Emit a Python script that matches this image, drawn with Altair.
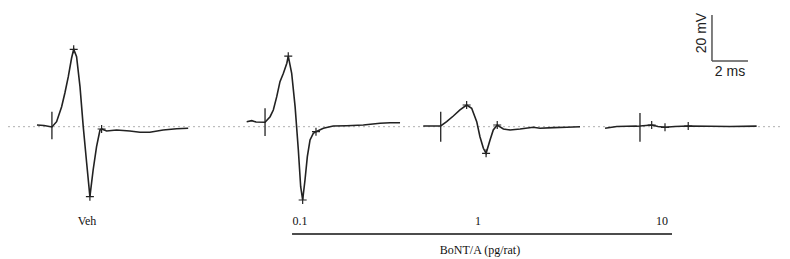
import altair as alt
import pandas as pd

# ---- data (time in ms relative to stimulus, voltage in mV relative to baseline) ----
trace_names = ["Veh", "0.1", "1", "10"]

veh_t = [-0.83, -0.44, 0.0, 0.26, 0.54, 0.72, 0.91, 1.09, 1.21, 1.37, 1.56, 1.74, 1.93, 2.11, 2.29, 2.48, 2.67, 2.76, 3.04, 3.59, 4.33, 4.89, 5.44, 6.18, 6.93, 7.57]
veh_v = [0.74, 0.52, -0.13, 2.17, 8.70, 14.65, 21.74, 29.74, 33.65, 30.43, 17.39, 0.0, -15.78, -30.43, -18.83, -8.70, -1.43, -1.0, -1.87, -1.43, -1.87, -2.43, -2.43, -1.43, -0.87, -0.70]

b01_t = [-1.02, -0.74, -0.5, 0.0, 0.28, 0.46, 0.65, 0.83, 1.02, 1.21, 1.29, 1.48, 1.67, 1.85, 1.98, 2.09, 2.22, 2.35, 2.5, 2.68, 2.83, 3.24, 3.79, 4.54, 5.46, 6.39, 6.94, 7.5]
b01_v = [2.17, 2.61, 2.04, 1.91, 4.35, 7.26, 13.04, 19.57, 23.22, 27.57, 30.65, 23.22, 8.70, -10.13, -26.09, -31.87, -23.17, -13.04, -5.78, -2.87, -2.17, -0.70, 0.30, 0.43, 0.74, 1.48, 1.74, 1.74]

b1_t = [-0.97, 0.0, 0.33, 0.7, 1.07, 1.44, 1.72, 2.0, 2.18, 2.37, 2.52, 2.74, 2.92, 3.14, 3.48, 3.85, 4.41, 5.14, 5.52, 6.26, 7.0, 7.74]
b1_v = [0.30, 0.30, 2.17, 4.65, 7.26, 9.43, 8.0, 2.17, -4.35, -9.39, -11.57, -5.78, -1.43, 0.74, -1.0, -1.43, -1.0, -0.26, -0.70, -0.43, -0.26, 0.0]

b10_t = [-1.94, -1.29, -0.74, -0.18, 0.0, 0.65, 1.0, 1.39, 1.94, 2.68, 3.89, 5.0, 6.48]
b10_v = [-0.70, 0.09, 0.17, 0.22, 0.30, 0.74, 0.09, -0.26, 0.09, 0.30, 0.17, 0.09, 0.22]

# marker crosses (peak, trough, end) per trace
mark_t = [[1.21, 2.11, 2.76], [1.29, 2.09, 2.83], [1.44, 2.52, 3.14], [0.65, 1.39, 2.68]]
mark_v = [[33.65, -30.43, -1.0], [30.65, -31.87, -2.17], [9.43, -11.57, 0.74], [0.74, -0.26, 0.30]]

# stimulus tick extents (mV)
stim_top = [6.5, 8.0, 6.5, 6.0]
stim_bot = [-5.5, -4.0, -6.5, -6.5]

group_label = "BoNT/A (pg/rat)"
scale_mv = 20
scale_ms = 2

# ---- layout (canvas placement in ms / mV) ----
stim_at = [2.44, 14.28, 24.04, 35.11]
label_x = [4.39, 16.22, 26.11, 36.33]
label_y = -41.0

x_scale = alt.Scale(domain=[0, 43], nice=False, zero=False)
y_scale = alt.Scale(domain=[-57.53, 51.6], nice=False, zero=False)

rows = []
for name, off, ts, vs in zip(trace_names, stim_at, [veh_t, b01_t, b1_t, b10_t], [veh_v, b01_v, b1_v, b10_v]):
    for i, (t, v) in enumerate(zip(ts, vs)):
        rows.append({"trace": name, "i": i, "t": off + t, "v": v})
traces = pd.DataFrame(rows)

mrows = []
for name, off, ts, vs in zip(trace_names, stim_at, mark_t, mark_v):
    for t, v in zip(ts, vs):
        mrows.append({"trace": name, "t": off + t, "v": v})
marks = pd.DataFrame(mrows)

stims = pd.DataFrame({"trace": trace_names, "t": stim_at, "top": stim_top, "bot": stim_bot})
labels = pd.DataFrame({"label": trace_names, "t": label_x, "v": [label_y] * 4})

X = lambda f: alt.X(f, type="quantitative", scale=x_scale, axis=None)
Y = lambda f: alt.Y(f, type="quantitative", scale=y_scale, axis=None)

ink = "#222222"

baseline = alt.Chart(pd.DataFrame({"t": [0], "t2": [43], "v": [0]})).mark_rule(
    color="#b0b0b0", strokeDash=[2, 3], strokeWidth=1
).encode(x=X("t"), x2="t2", y=Y("v"))

lines = alt.Chart(traces).mark_line(color=ink, strokeWidth=1.6).encode(
    x=X("t"), y=Y("v"), detail="trace:N", order="i:Q"
)

crosses = alt.Chart(marks).mark_point(
    shape="M-1,0L1,0M0,-1L0,1", filled=False, color=ink, size=64, strokeWidth=1.2, opacity=1
).encode(x=X("t"), y=Y("v"))

stim_ticks = alt.Chart(stims).mark_rule(color=ink, strokeWidth=1.3).encode(
    x=X("t"), y=Y("top"), y2="bot"
)

text_labels = alt.Chart(labels).mark_text(
    font="Liberation Serif", fontSize=12, color="#111111"
).encode(x=X("t"), y=Y("v"), text="label:N")

bracket = alt.Chart(pd.DataFrame({"t": [15.78], "t2": [36.89], "v": [-46.65]})).mark_rule(
    color="#111111", strokeWidth=1.6
).encode(x=X("t"), x2="t2", y=Y("v"))

group_text = alt.Chart(pd.DataFrame({"label": [group_label], "t": [26.22], "v": [-53.4]})).mark_text(
    font="Liberation Serif", fontSize=12, color="#111111"
).encode(x=X("t"), y=Y("v"), text="label:N")

# scale bar: 20 mV vertical and 2 ms horizontal
sb_x0, sb_y0 = 39.11, 28.57
sb_v = alt.Chart(pd.DataFrame({"t": [sb_x0], "v": [sb_y0], "v2": [sb_y0 + scale_mv]})).mark_rule(
    color="#555555", strokeWidth=1.5
).encode(x=X("t"), y=Y("v"), y2="v2")
sb_h = alt.Chart(pd.DataFrame({"t": [sb_x0], "t2": [sb_x0 + scale_ms], "v": [sb_y0]})).mark_rule(
    color="#555555", strokeWidth=1.5
).encode(x=X("t"), x2="t2", y=Y("v"))
sb_mv = alt.Chart(pd.DataFrame({"label": [f"{scale_mv} mV"], "t": [38.54], "v": [40.7]})).mark_text(
    font="Liberation Sans", fontSize=14, angle=270, color="#222222"
).encode(x=X("t"), y=Y("v"), text="label:N")
sb_ms = alt.Chart(pd.DataFrame({"label": [f"{scale_ms} ms"], "t": [40.11], "v": [23.6]})).mark_text(
    font="Liberation Sans", fontSize=14, color="#222222"
).encode(x=X("t"), y=Y("v"), text="label:N")

chart = alt.layer(
    baseline, lines, stim_ticks, crosses, text_labels, bracket, group_text, sb_v, sb_h, sb_mv, sb_ms
).properties(
    width=774, height=251, padding=0, autosize=alt.AutoSizeParams(type="none")
).configure_view(stroke=None)

chart.save("out.html", embed_options={"renderer": "svg", "actions": False})
